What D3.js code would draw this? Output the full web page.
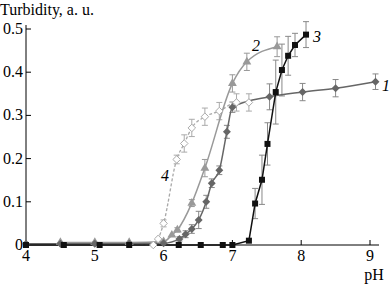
<!DOCTYPE html>
<html>
<head>
<meta charset="utf-8">
<script src="https://cdn.jsdelivr.net/npm/d3@7"></script>
<style>
  body { margin: 0; background: #fff; }
  svg text { font-family: "Liberation Serif", "DejaVu Serif", serif; font-size: 16px; }
</style>
</head>
<body>
<div id="chart"></div>
<script>
// curve 1 - dark grey diamonds
const ph1 = [4.0, 4.5, 5.0, 5.5, 6.0, 6.23, 6.32, 6.41, 6.51, 6.62, 6.70, 6.81, 6.92, 7.00, 7.54, 8.02, 8.50, 9.08];
const t1  = [0.003, 0.003, 0.003, 0.003, 0.004, 0.014, 0.025, 0.037, 0.058, 0.100, 0.143, 0.173, 0.262, 0.319, 0.343, 0.354, 0.363, 0.378];
const e1  = [0, 0, 0, 0, 0, 0.005, 0.008, 0.01, 0.02, 0.015, 0.01, 0.01, 0.015, 0.012, 0.03, 0.02, 0.02, 0.018];
// curve 2 - grey triangles
const ph2 = [4.5, 5.0, 5.5, 6.0, 6.12, 6.20, 6.41, 6.60, 7.00, 7.21, 7.65];
const t2  = [0.006, 0.006, 0.006, 0.008, 0.023, 0.035, 0.097, 0.178, 0.374, 0.424, 0.459];
const e2  = [0, 0, 0, 0, 0, 0.005, 0.008, 0.02, 0.02, 0.02, 0.023];
// curve 3 - black squares
const ph3 = [4.0, 4.55, 5.07, 5.5, 6.22, 6.54, 6.86, 7.0, 7.24, 7.33, 7.43, 7.51, 7.63, 7.72, 7.81, 7.91, 8.07];
const t3  = [0.0, 0.0, 0.0, 0.0, 0.0, 0.0, 0.0, 0.0, 0.01, 0.096, 0.151, 0.234, 0.354, 0.405, 0.438, 0.463, 0.487];
const e3  = [0, 0, 0, 0, 0, 0, 0, 0, 0, 0.035, 0.057, 0.049, 0.074, 0.06, 0.045, 0.027, 0.03];
// curve 4 - open diamonds, dashed
const ph4 = [4.5, 5.0, 5.5, 5.85, 5.92, 6.0, 6.19, 6.30, 6.41, 6.60, 6.81, 7.06, 7.24];
const t4  = [0.004, 0.004, 0.004, 0.0, 0.014, 0.05, 0.198, 0.235, 0.271, 0.297, 0.31, 0.33, 0.33];
const e4  = [0, 0, 0, 0, 0, 0.008, 0.01, 0.02, 0.02, 0.02, 0.02, 0.02, 0.02];

const xTicks = [4, 5, 6, 7, 8, 9];
const yTicks = [0, 0.1, 0.2, 0.3, 0.4, 0.5];

const width = 391, height = 284;
const svg = d3.select("#chart").append("svg")
  .attr("width", width).attr("height", height);

const x = d3.scaleLinear().domain([4, 9]).range([26, 370]);
const y = d3.scaleLinear().domain([0, 0.5]).range([245, 29]);

// axes
svg.append("line").attr("x1", 26).attr("x2", 379).attr("y1", 245).attr("y2", 245)
  .attr("stroke", "#000").attr("stroke-width", 1);
svg.append("line").attr("x1", 26).attr("x2", 26).attr("y1", 245).attr("y2", 25)
  .attr("stroke", "#000").attr("stroke-width", 1);

svg.selectAll(".xt").data(xTicks.slice(1)).enter().append("line")
  .attr("x1", d => x(d)).attr("x2", d => x(d)).attr("y1", 245).attr("y2", 240)
  .attr("stroke", "#000");
svg.selectAll(".yt").data(yTicks.slice(1)).enter().append("line")
  .attr("x1", 26).attr("x2", 31).attr("y1", d => y(d)).attr("y2", d => y(d))
  .attr("stroke", "#000");

svg.selectAll(".xl").data(xTicks).enter().append("text")
  .attr("x", d => x(d)).attr("y", 261)
  .attr("text-anchor", "middle")
  .text(d => d);
svg.selectAll(".yl").data(yTicks).enter().append("text")
  .attr("x", 23).attr("y", d => y(d) + 5)
  .attr("text-anchor", "end")
  .text(d => d === 0 ? "0" : d.toFixed(1));

svg.append("text").attr("x", 0).attr("y", 15).text("Turbidity, a. u.");
svg.append("text").attr("x", 374).attr("y", 280).attr("text-anchor", "middle").text("pH");

function zip(px, ty, er) {
  return px.map((p, i) => ({ x: p, y: ty[i], e: er[i] }));
}
const s1 = zip(ph1, t1, e1), s2 = zip(ph2, t2, e2), s3 = zip(ph3, t3, e3), s4 = zip(ph4, t4, e4);

function errBars(data, color) {
  const g = svg.append("g").attr("stroke", color).attr("stroke-width", 1).attr("fill", "none");
  data.filter(d => d.e > 0).forEach(d => {
    const cx = x(d.x), y0 = y(d.y - d.e), y1 = y(d.y + d.e);
    g.append("line").attr("x1", cx).attr("x2", cx).attr("y1", y0).attr("y2", y1);
    g.append("line").attr("x1", cx - 3).attr("x2", cx + 3).attr("y1", y0).attr("y2", y0);
    g.append("line").attr("x1", cx - 3).attr("x2", cx + 3).attr("y1", y1).attr("y2", y1);
  });
}

const smooth = d3.line().x(d => x(d.x)).y(d => y(d.y)).curve(d3.curveMonotoneX);
const straight = d3.line().x(d => x(d.x)).y(d => y(d.y));

errBars(s4, "#aaa");
errBars(s2, "#999");
errBars(s1, "#888");
errBars(s3, "#888");

svg.append("path").attr("d", smooth(s4)).attr("fill", "none")
  .attr("stroke", "#a8a8a8").attr("stroke-width", 1.3).attr("stroke-dasharray", "3,2");
svg.append("path").attr("d", smooth(s2)).attr("fill", "none")
  .attr("stroke", "#999").attr("stroke-width", 1.5);
svg.append("path").attr("d", smooth(s1)).attr("fill", "none")
  .attr("stroke", "#666").attr("stroke-width", 1.5);
svg.append("path").attr("d", straight(s3)).attr("fill", "none")
  .attr("stroke", "#111").attr("stroke-width", 1.5);

// markers
svg.selectAll(".m4").data(s4).enter().append("path")
  .attr("d", d3.symbol(d3.symbolDiamond2, 36))
  .attr("transform", d => `translate(${x(d.x)},${y(d.y)})`)
  .attr("fill", "#fff").attr("stroke", "#aaa").attr("stroke-width", 1);
svg.selectAll(".m2").data(s2).enter().append("path")
  .attr("d", d3.symbol(d3.symbolTriangle, 34))
  .attr("transform", d => `translate(${x(d.x)},${y(d.y)})`)
  .attr("fill", "#999");
svg.selectAll(".m1").data(s1).enter().append("path")
  .attr("d", d3.symbol(d3.symbolDiamond2, 40))
  .attr("transform", d => `translate(${x(d.x)},${y(d.y)})`)
  .attr("fill", "#666");
svg.selectAll(".m3").data(s3).enter().append("rect")
  .attr("x", d => x(d.x) - 3).attr("y", d => y(d.y) - 3)
  .attr("width", 6).attr("height", 6)
  .attr("fill", "#111");

// curve labels
const labels = [["1", 386, 91], ["2", 256, 51], ["3", 317, 42], ["4", 165, 181]];
svg.selectAll(".cl").data(labels).enter().append("text")
  .attr("x", d => d[1]).attr("y", d => d[2])
  .attr("text-anchor", "middle").attr("font-style", "italic")
  .text(d => d[0]);
</script>
</body>
</html>
